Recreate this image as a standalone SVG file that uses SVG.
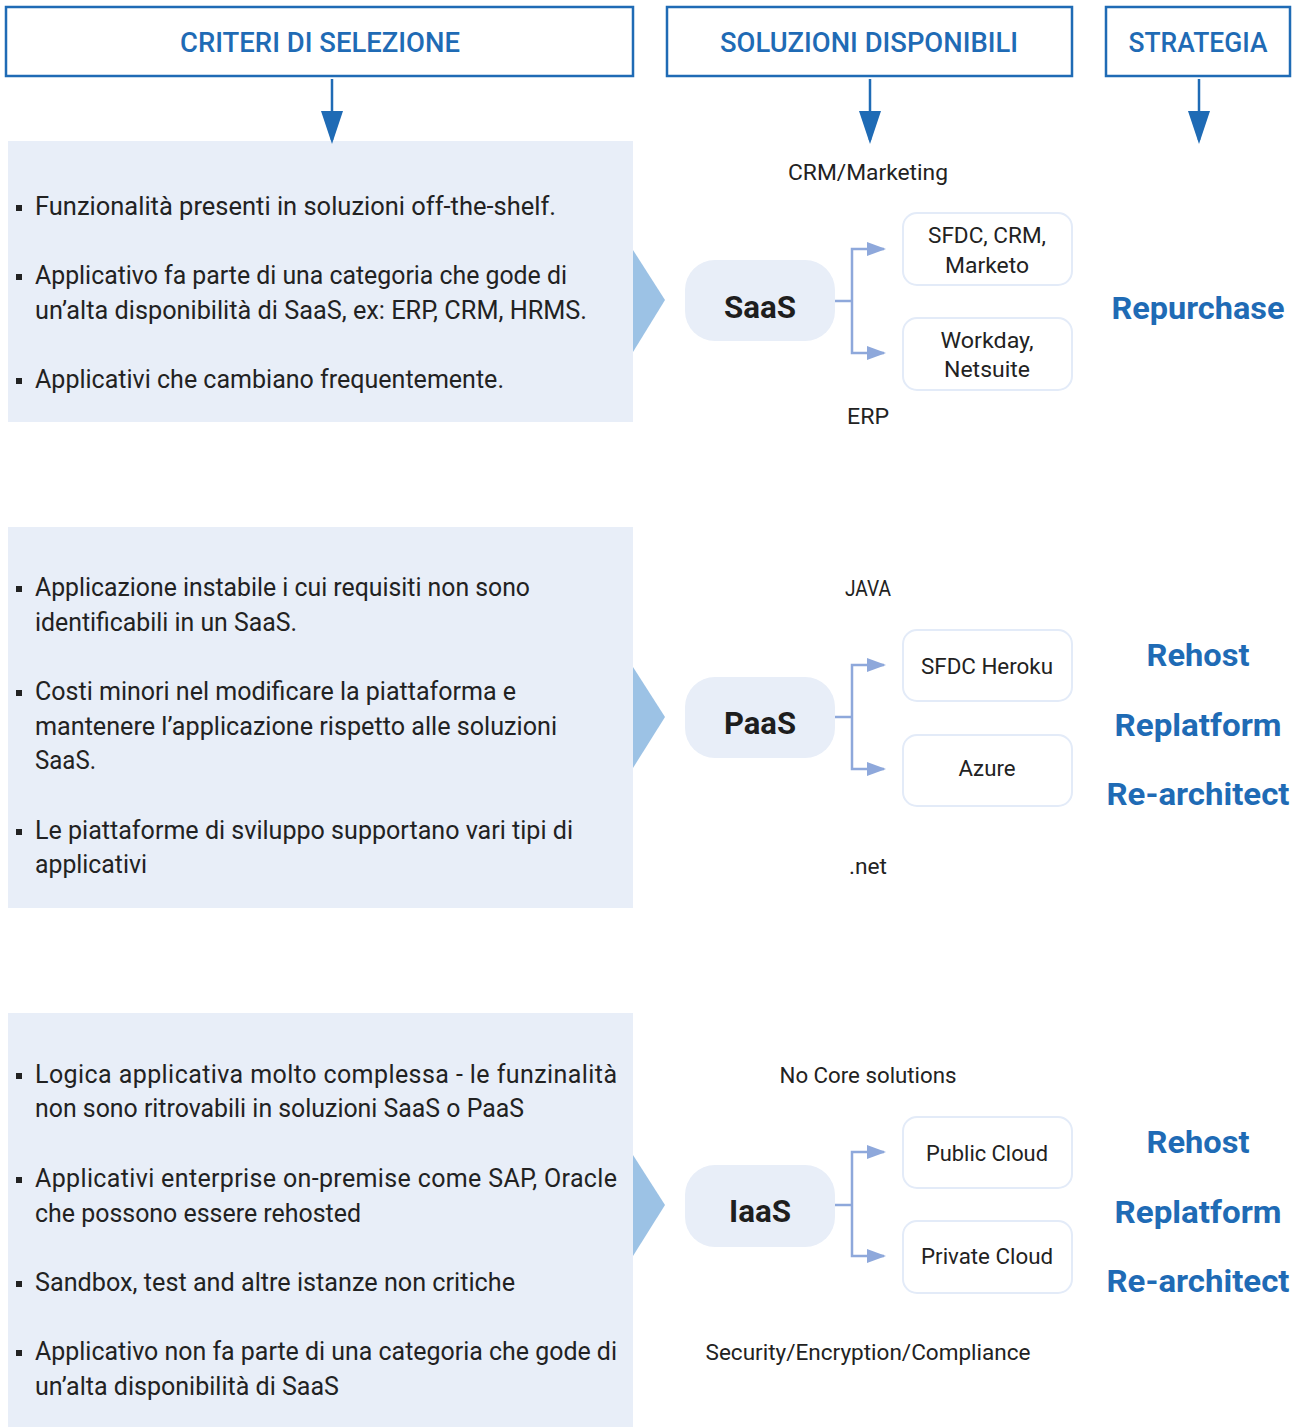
<svg xmlns="http://www.w3.org/2000/svg" width="1301" height="1427" viewBox="0 0 1301 1427">
  <style>
    .hdr { fill: #ffffff; stroke: #1f6bb5; stroke-width: 2.5; }
    .hdr-t { font-family: Roboto, "Liberation Sans", sans-serif; font-size: 27px; font-weight: 500; fill: #1f6bb5; text-anchor: middle; }
    .panel { fill: #e8eef8; }
    .tri { fill: #9cc2e5; }
    .txt { font-family: Roboto, "Liberation Sans", sans-serif; font-size: 25px; fill: #222222; }
    .bul { fill: #222222; }
    .node { fill: #e8eef8; }
    .node-t { font-family: Roboto, "Liberation Sans", sans-serif; font-size: 32px; font-weight: 700; fill: #1e1e1e; text-anchor: middle; }
    .box { fill: #ffffff; stroke: #e3ebf8; stroke-width: 2; }
    .lbl { font-family: Roboto, "Liberation Sans", sans-serif; font-size: 22px; fill: #222222; text-anchor: middle; }
    .strat { font-family: Roboto, "Liberation Sans", sans-serif; font-size: 32px; font-weight: 700; fill: #1f6bb5; text-anchor: middle; }
    .down { stroke: #1f6bb5; stroke-width: 2.5; fill: none; }
    .branch { stroke: #8ea8db; stroke-width: 2.5; fill: none; }
  </style>
  <defs>
    <!-- arrowheads drawn along +x, rotated to the path direction -->
    <marker id="headDown" markerUnits="userSpaceOnUse" markerWidth="34" markerHeight="24" refX="29" refY="12" orient="auto" viewBox="0 0 34 24">
      <path d="M0,1 L33,12 L0,23 Z" fill="#1f6bb5"/>
    </marker>
    <marker id="headRight" markerUnits="userSpaceOnUse" markerWidth="20" markerHeight="16" refX="17" refY="8" orient="auto" viewBox="0 0 20 16">
      <path d="M0,1 L19,8 L0,15 Z" fill="#8ea8db"/>
    </marker>
  </defs>

  <!-- column headers -->
  <g id="hdr-criteri">
    <rect class="hdr" x="6" y="7" width="627" height="69"/>
    <text class="hdr-t" x="320" y="52" textLength="280" lengthAdjust="spacingAndGlyphs">CRITERI DI SELEZIONE</text>
  </g>
  <g id="hdr-soluzioni">
    <rect class="hdr" x="667" y="7" width="405" height="69"/>
    <text class="hdr-t" x="869" y="52" textLength="298" lengthAdjust="spacingAndGlyphs">SOLUZIONI DISPONIBILI</text>
  </g>
  <g id="hdr-strategia">
    <rect class="hdr" x="1106" y="7" width="184" height="69"/>
    <text class="hdr-t" x="1198" y="52" textLength="139" lengthAdjust="spacingAndGlyphs">STRATEGIA</text>
  </g>

  <!-- criteria panels -->
  <g id="panel-saas">
    <rect class="panel" x="8" y="141" width="625" height="281"/>
    <polygon class="tri" points="633,250 665,300 633,352"/>
    <rect class="bul" x="16" y="205" width="6" height="6"/>
    <text class="txt" x="35" y="215" textLength="521" lengthAdjust="spacingAndGlyphs">Funzionalità presenti in soluzioni off-the-shelf.</text>
    <rect class="bul" x="16" y="274" width="6" height="6"/>
    <text class="txt" x="35" y="284" textLength="532" lengthAdjust="spacingAndGlyphs">Applicativo fa parte di una categoria che gode di</text>
    <text class="txt" x="35" y="319" textLength="552" lengthAdjust="spacingAndGlyphs">un’alta disponibilità di SaaS, ex: ERP, CRM, HRMS.</text>
    <rect class="bul" x="16" y="378" width="6" height="6"/>
    <text class="txt" x="35" y="388" textLength="469" lengthAdjust="spacingAndGlyphs">Applicativi che cambiano frequentemente.</text>
  </g>

  <g id="panel-paas">
    <rect class="panel" x="8" y="527" width="625" height="381"/>
    <polygon class="tri" points="633,667 665,717 633,768"/>
    <rect class="bul" x="16" y="586" width="6" height="6"/>
    <text class="txt" x="35" y="596" textLength="495" lengthAdjust="spacingAndGlyphs">Applicazione instabile i cui requisiti non sono</text>
    <text class="txt" x="35" y="631" textLength="262" lengthAdjust="spacingAndGlyphs">identificabili in un SaaS.</text>
    <rect class="bul" x="16" y="690" width="6" height="6"/>
    <text class="txt" x="35" y="700" textLength="481" lengthAdjust="spacingAndGlyphs">Costi minori nel modificare la piattaforma e</text>
    <text class="txt" x="35" y="735" textLength="522" lengthAdjust="spacingAndGlyphs">mantenere l’applicazione rispetto alle soluzioni</text>
    <text class="txt" x="35" y="769" textLength="61" lengthAdjust="spacingAndGlyphs">SaaS.</text>
    <rect class="bul" x="16" y="829" width="6" height="6"/>
    <text class="txt" x="35" y="839" textLength="538" lengthAdjust="spacingAndGlyphs">Le piattaforme di sviluppo supportano vari tipi di</text>
    <text class="txt" x="35" y="873" textLength="112" lengthAdjust="spacingAndGlyphs">applicativi</text>
  </g>

  <g id="panel-iaas">
    <rect class="panel" x="8" y="1013" width="625" height="414"/>
    <polygon class="tri" points="633,1155 665,1205 633,1256"/>
    <rect class="bul" x="16" y="1073" width="6" height="6"/>
    <text class="txt" x="35" y="1083" textLength="582" lengthAdjust="spacing">Logica applicativa molto complessa - le funzinalità</text>
    <text class="txt" x="35" y="1117" textLength="489" lengthAdjust="spacingAndGlyphs">non sono ritrovabili in soluzioni SaaS o PaaS</text>
    <rect class="bul" x="16" y="1177" width="6" height="6"/>
    <text class="txt" x="35" y="1187" textLength="582" lengthAdjust="spacing">Applicativi enterprise on-premise come SAP, Oracle</text>
    <text class="txt" x="35" y="1222" textLength="326" lengthAdjust="spacingAndGlyphs">che possono essere rehosted</text>
    <rect class="bul" x="16" y="1281" width="6" height="6"/>
    <text class="txt" x="35" y="1291" textLength="480" lengthAdjust="spacingAndGlyphs">Sandbox, test and altre istanze non critiche</text>
    <rect class="bul" x="16" y="1350" width="6" height="6"/>
    <text class="txt" x="35" y="1360" textLength="582" lengthAdjust="spacingAndGlyphs">Applicativo non fa parte di una categoria che gode di</text>
    <text class="txt" x="35" y="1395" textLength="304" lengthAdjust="spacingAndGlyphs">un’alta disponibilità di SaaS</text>
  </g>

  <!-- service models -->
  <g id="node-saas">
    <rect class="node" x="685" y="260" width="150" height="81" rx="30"/>
    <text class="node-t" x="760" y="318" textLength="72" lengthAdjust="spacingAndGlyphs">SaaS</text>
  </g>
  <g id="node-paas">
    <rect class="node" x="685" y="677" width="150" height="81" rx="30"/>
    <text class="node-t" x="760" y="734" textLength="72" lengthAdjust="spacingAndGlyphs">PaaS</text>
  </g>
  <g id="node-iaas">
    <rect class="node" x="685" y="1165" width="150" height="82" rx="30"/>
    <text class="node-t" x="760" y="1222" textLength="62" lengthAdjust="spacingAndGlyphs">IaaS</text>
  </g>

  <!-- solution boxes -->
  <g id="box-sfdc-crm">
    <rect class="box" x="903" y="213" width="169" height="72" rx="14"/>
    <text class="lbl" x="987" y="243" textLength="118" lengthAdjust="spacingAndGlyphs">SFDC, CRM,</text>
    <text class="lbl" x="987" y="273" textLength="84" lengthAdjust="spacingAndGlyphs">Marketo</text>
  </g>
  <g id="box-workday">
    <rect class="box" x="903" y="318" width="169" height="72" rx="14"/>
    <text class="lbl" x="987" y="348" textLength="93" lengthAdjust="spacingAndGlyphs">Workday,</text>
    <text class="lbl" x="987" y="377" textLength="86" lengthAdjust="spacingAndGlyphs">Netsuite</text>
  </g>
  <g id="box-heroku">
    <rect class="box" x="903" y="630" width="169" height="71" rx="14"/>
    <text class="lbl" x="987" y="674" textLength="132" lengthAdjust="spacingAndGlyphs">SFDC Heroku</text>
  </g>
  <g id="box-azure">
    <rect class="box" x="903" y="735" width="169" height="71" rx="14"/>
    <text class="lbl" x="987" y="776" textLength="57" lengthAdjust="spacingAndGlyphs">Azure</text>
  </g>
  <g id="box-public">
    <rect class="box" x="903" y="1117" width="169" height="71" rx="14"/>
    <text class="lbl" x="987" y="1161" textLength="122" lengthAdjust="spacingAndGlyphs">Public Cloud</text>
  </g>
  <g id="box-private">
    <rect class="box" x="903" y="1221" width="169" height="72" rx="14"/>
    <text class="lbl" x="987" y="1264" textLength="132" lengthAdjust="spacingAndGlyphs">Private Cloud</text>
  </g>

  <!-- category labels -->
  <g id="labels">
    <text class="lbl" x="868" y="180" textLength="160" lengthAdjust="spacingAndGlyphs">CRM/Marketing</text>
    <text class="lbl" x="868" y="424" textLength="42" lengthAdjust="spacingAndGlyphs">ERP</text>
    <text class="lbl" x="868" y="596" textLength="46" lengthAdjust="spacingAndGlyphs">JAVA</text>
    <text class="lbl" x="868" y="874" textLength="38" lengthAdjust="spacingAndGlyphs">.net</text>
    <text class="lbl" x="868" y="1083" textLength="177" lengthAdjust="spacingAndGlyphs">No Core solutions</text>
    <text class="lbl" x="868" y="1360" textLength="325" lengthAdjust="spacingAndGlyphs">Security/Encryption/Compliance</text>
  </g>

  <!-- strategies -->
  <g id="strategy-saas">
    <text class="strat" x="1198" y="319" textLength="173" lengthAdjust="spacingAndGlyphs">Repurchase</text>
  </g>
  <g id="strategy-paas">
    <text class="strat" x="1198" y="666" textLength="103" lengthAdjust="spacingAndGlyphs">Rehost</text>
    <text class="strat" x="1198" y="736" textLength="167" lengthAdjust="spacingAndGlyphs">Replatform</text>
    <text class="strat" x="1198" y="805" textLength="183" lengthAdjust="spacingAndGlyphs">Re-architect</text>
  </g>
  <g id="strategy-iaas">
    <text class="strat" x="1198" y="1153" textLength="103" lengthAdjust="spacingAndGlyphs">Rehost</text>
    <text class="strat" x="1198" y="1223" textLength="167" lengthAdjust="spacingAndGlyphs">Replatform</text>
    <text class="strat" x="1198" y="1292" textLength="183" lengthAdjust="spacingAndGlyphs">Re-architect</text>
  </g>

  <!-- connectors -->
  <g id="connectors">
    <line class="down" x1="332" y1="79" x2="332" y2="140" marker-end="url(#headDown)"/>
    <line class="down" x1="870" y1="79" x2="870" y2="140" marker-end="url(#headDown)"/>
    <line class="down" x1="1199" y1="79" x2="1199" y2="140" marker-end="url(#headDown)"/>

    <path class="branch" d="M835,301 H852"/>
    <path class="branch" d="M852,301 V249 H884" marker-end="url(#headRight)"/>
    <path class="branch" d="M852,301 V353 H884" marker-end="url(#headRight)"/>
    <path class="branch" d="M835,717 H852"/>
    <path class="branch" d="M852,717 V665 H884" marker-end="url(#headRight)"/>
    <path class="branch" d="M852,717 V769 H884" marker-end="url(#headRight)"/>
    <path class="branch" d="M835,1205 H852"/>
    <path class="branch" d="M852,1205 V1152 H884" marker-end="url(#headRight)"/>
    <path class="branch" d="M852,1205 V1256 H884" marker-end="url(#headRight)"/>
  </g>
</svg>
